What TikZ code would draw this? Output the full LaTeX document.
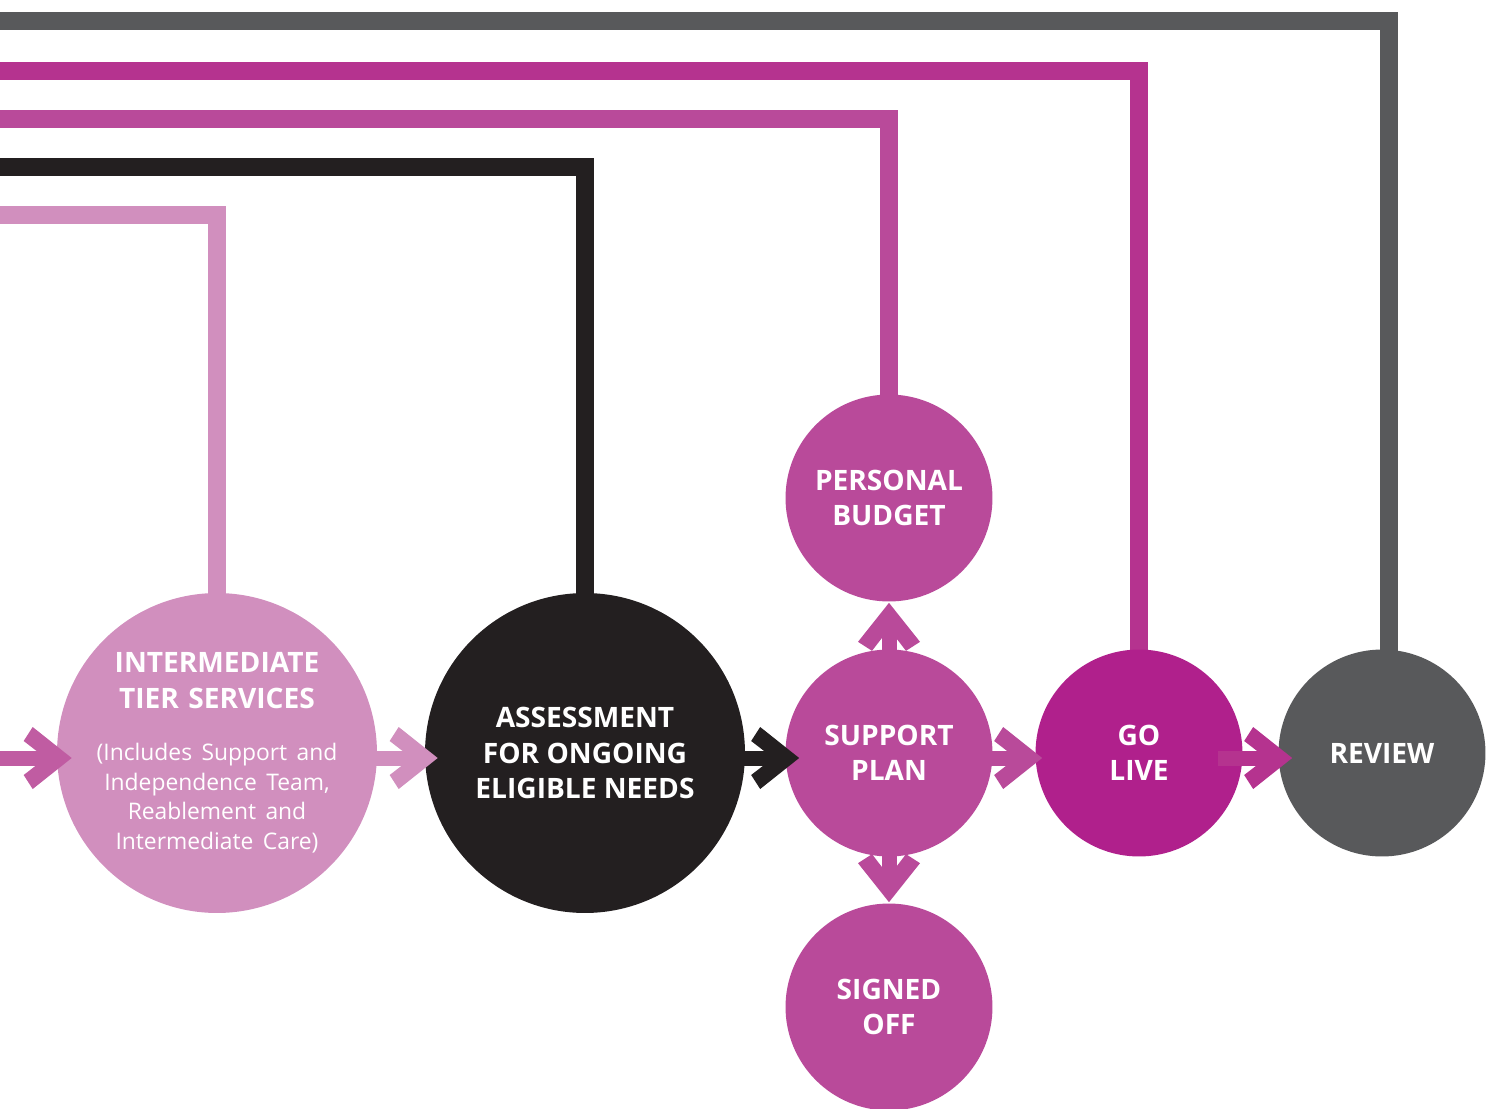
\documentclass[tikz,border=0pt]{standalone}
\usepackage{fontspec}
\setmainfont{Open Sans}
\newfontfamily\noteFont{Open Sans}[WordSpace=0.8]
\usetikzlibrary{calc,backgrounds}

\definecolor{reviewGrey}{HTML}{58595B}
\definecolor{liveMagenta}{HTML}{B0208C}
\definecolor{liveLine}{HTML}{B5338F}
\definecolor{planPink}{HTML}{B94A9A}
\definecolor{entryPink}{HTML}{C05CA2}
\definecolor{tierPink}{HTML}{D18FBE}
\definecolor{assessBlack}{HTML}{231F20}

% chunky arrow: shaft plus chevron head, #1 = rotation of the head
\newcommand{\stageArrow}[4][0]{%
  \draw[line width=0.3cm, #2, shorten >=0.4cm] (#3) -- (#4);
  \fill[#2, shift={(#4)}, rotate=#1] (0,0) -- (-39,-31) -- (-48,-17) -- (-26,0) -- (-48,17) -- (-39,31) -- cycle;
}

\begin{document}
\begin{tikzpicture}[x=0.02cm, y=-0.02cm,
    stage/.style={circle, inner sep=-12pt, text=white, align=center, font=\bfseries\fontsize{16}{20}\selectfont},
    bigStage/.style={stage, minimum size=6.4cm},
    smallStage/.style={stage, minimum size=4.14cm},
    feedLine/.style={line width=0.36cm, line join=miter}
]
    \useasboundingbox (0,0) rectangle (1488,1109);
    \clip (0,0) rectangle (1488,1109);

    % loose ends of the feedback lines, off the left edge
    \coordinate (greyEnd) at (-10,21);
    \coordinate (liveEnd) at (-10,71);
    \coordinate (budgetEnd) at (-10,119);
    \coordinate (assessEnd) at (-10,167);
    \coordinate (tierEnd) at (-10,215);
    \coordinate (entryStart) at (-10,758);

    % stages
    \node[bigStage, fill=tierPink, text width=5.4cm] (inter) at (217,753) {%
        INTERMEDIATE\\TIER SERVICES\par\vspace{13pt}
        {\noteFont\mdseries\fontsize{13}{16.9}\selectfont (Includes Support and\\Independence Team,\\Reablement and\\Intermediate Care)\par}};
    \node[bigStage, fill=assessBlack] (assess) at (585,753) {ASSESSMENT\\FOR ONGOING\\ELIGIBLE NEEDS};
    \node[smallStage, fill=planPink] (budget) at (889,498) {PERSONAL\\BUDGET};
    \node[smallStage, fill=planPink] (plan) at (889,753) {SUPPORT\\PLAN};
    \node[smallStage, fill=planPink] (signed) at (889,1007) {SIGNED\\OFF};
    \node[smallStage, fill=liveMagenta] (golive) at (1139,753) {GO\\LIVE};
    \node[smallStage, fill=reviewGrey] (review) at (1382,753) {REVIEW};

    % feedback lines, behind the circles
    \begin{scope}[on background layer]
        \draw[feedLine, reviewGrey] ($(review.center)+(7,0)$) |- (greyEnd);
        \draw[feedLine, liveLine] (golive.center) |- (liveEnd);
        \draw[feedLine, planPink] (budget.center) |- (budgetEnd);
        \draw[feedLine, assessBlack] (assess.center) |- (assessEnd);
        \draw[feedLine, tierPink] (inter.center) |- (tierEnd);
    \end{scope}

    % arrows
    \stageArrow{entryPink}{entryStart}{$(inter.west)+(15,5)$}
    \stageArrow{tierPink}{$(inter.east)+(-20,5)$}{$(assess.west)+(13,5)$}
    \stageArrow{assessBlack}{$(assess.east)+(-20,5)$}{$(plan.west)+(14,5)$}
    \stageArrow[90]{planPink}{$(plan.north)+(0,10)$}{$(budget.south)+(0,1)$}
    \stageArrow[-90]{planPink}{$(plan.south)+(0,-10)$}{$(signed.north)+(0,-1)$}
    \stageArrow{planPink}{$(plan.east)+(-20,5)$}{$(golive.west)+(7,5)$}
    \stageArrow{liveLine}{$(golive.east)+(-25,5)$}{$(review.west)+(14,5)$}
\end{tikzpicture}
\end{document}
